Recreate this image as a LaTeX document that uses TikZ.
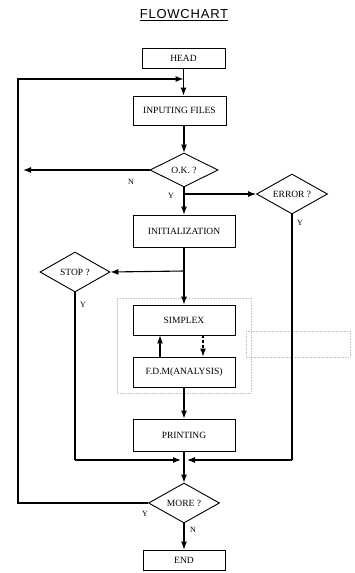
\documentclass[tikz,border=0pt]{standalone}
\usepackage{fontspec}
\setmainfont{Liberation Serif}
\newfontfamily\titlefont[LetterSpace=6]{Liberation Sans}
\usetikzlibrary{shapes.geometric,arrows.meta}
\begin{document}
\begin{tikzpicture}[x=1pt,y=-1pt,
  boxnode/.style={draw,line width=0.9pt,rectangle,inner sep=0pt,font=\fontsize{9.5}{10}\selectfont},
  decnode/.style={draw,line width=0.9pt,diamond,aspect=1.8,inner sep=0pt,font=\fontsize{9.5}{10}\selectfont},
  lab/.style={font=\fontsize{8}{9}\selectfont,inner sep=0pt},
  flow/.style={line width=1.1pt,-{Latex[length=8pt,width=6pt]}},
  plain/.style={line width=1.1pt},
  faint/.style={gray!45,densely dotted,line width=0.6pt}]
\useasboundingbox (0,0) rectangle (354,573);
% title
\node (title) at (184,15) {\titlefont\fontsize{13}{14}\selectfont\underline{FLOWCHART}};
% boxes
\node[boxnode,minimum width=83pt,minimum height=20pt] (head) at (183.5,58) {HEAD};
\node[boxnode,minimum width=93pt,minimum height=29pt] (inp) at (179.5,110.5) {INPUTING FILES};
\node[decnode,minimum width=68pt,minimum height=34pt] (ok) at (184,170) {O.K. ?};
\node[decnode,minimum width=71pt,minimum height=40pt] (err) at (292,194) {ERROR ?};
\node[boxnode,minimum width=102pt,minimum height=32pt] (init) at (184,231) {INITIALIZATION};
\node[decnode,minimum width=70pt,minimum height=40pt] (stop) at (75,272) {STOP ?};
\node[boxnode,minimum width=102pt,minimum height=30pt] (simp) at (184,320) {SIMPLEX};
\node[boxnode,minimum width=102pt,minimum height=30pt] (fdm) at (184,372) {F.D.M(ANALYSIS)};
\node[boxnode,minimum width=102pt,minimum height=32pt] (prt) at (184,435) {PRINTING};
\node[decnode,minimum width=71pt,minimum height=40pt] (more) at (184,503) {MORE ?};
\node[boxnode,minimum width=82pt,minimum height=20pt] (end) at (184,560) {END};
% faint dotted frames
\draw[faint] (117,298) rectangle (251,393);
\draw[faint] (246,331) rectangle (350,357);
% coordinates
\coordinate (loopL) at (18,503);
\coordinate (loopT) at (18,79);
\coordinate (loopE) at (183.5,79);
\coordinate (okN) at (23,170);
\coordinate (brY) at (184,194);
\coordinate (brS) at (184,271);
\coordinate (join) at (184,460);
\coordinate (errC) at (292,460);
\coordinate (stopC) at (75,460);
\coordinate (joinL) at (181,460);
\coordinate (joinR) at (187,460);
% connectors
\draw[flow] (head.south) -- (head.south |- inp.north);
\draw[flow] (more.west) -- (loopL) -- (loopT) -- (loopE);
\draw[flow] (inp.south -| ok.north) -- (ok.north);
\draw[flow] (ok.west) -- (okN);
\draw[flow] (ok.south) -- (init.north);
\draw[flow] (brY) -- (err.west);
\draw[plain] (err.south) -- (errC);
\draw[flow] (errC) -- (joinR);
\draw[flow] (init.south) -- (simp.north);
\draw[flow] (brS) -- (stop.east);
\draw[plain] (stop.south) -- (stopC);
\draw[flow] (stopC) -- (joinL);
\draw[flow] (fdm.north -| 160,0) -- (simp.south -| 160,0);
\draw[flow,densely dashed] (simp.south -| 203,0) -- (fdm.north -| 203,0);
\draw[flow] (fdm.south) -- (prt.north);
\draw[flow] (prt.south) -- (more.north);
\draw[flow] (more.south) -- (end.north);
% labels
\node[lab] (lN1) at (131,182) {N};
\node[lab] (lY1) at (171,196) {Y};
\node[lab] (lY2) at (300,223) {Y};
\node[lab] (lY3) at (83,305) {Y};
\node[lab] (lY4) at (145,514) {Y};
\node[lab] (lN2) at (193,530) {N};
\end{tikzpicture}
\end{document}
